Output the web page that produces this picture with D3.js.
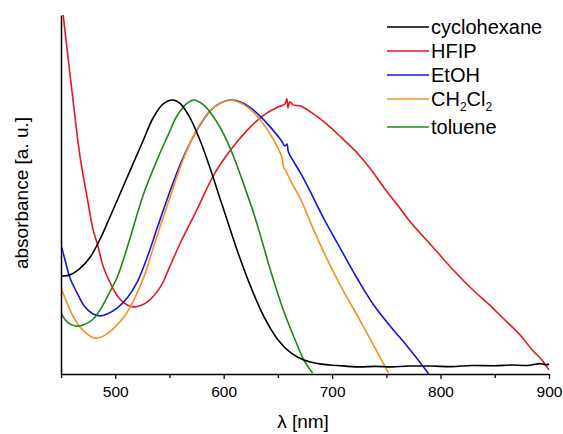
<html>
<head>
  <script src="https://cdn.jsdelivr.net/npm/d3@7"></script>
  <style>
    body { margin: 0; background: #fff; }
    text { font-family: "Liberation Sans", Arial, sans-serif; fill: #000; }
  </style>
</head>
<body>
<div id="chart"></div>
<script>
// spectra: [wavelength nm, normalised absorbance]
var cyclohexane = [[450,0.358],[458,0.361],[468,0.387],[477,0.427],[486,0.492],[493.5,0.558],[502,0.635],
  [514,0.745],[526,0.854],[535,0.935],[544,0.985],[553,1.0],[560,0.987],[569,0.935],[579,0.845],[588,0.745],
  [596,0.648],[604,0.552],[613,0.445],[625,0.318],[637,0.210],[650,0.125],[662,0.077],[674,0.051],[690,0.036],
  [705,0.031],[724,0.026],[740,0.028],[755,0.026],[770,0.029],[792,0.029],[810,0.027],[829,0.031],[850,0.030],
  [866,0.033],[880,0.031],[892,0.038],[897,0.034],[900,0.036]];
var hfip = [[452,1.31],[460,1.036],[467.6,0.792],[474,0.646],[479.6,0.526],[483.3,0.478],[489,0.391],[495.4,0.332],
  [502.8,0.280],[511,0.252],[518.5,0.245],[529.6,0.263],[541.7,0.318],[551,0.398],[560,0.478],[569.4,0.552],
  [576,0.605],[590.7,0.725],[606.5,0.818],[622,0.891],[637,0.945],[650,0.974],[656.5,0.985],[658.3,1.004],
  [659.3,0.971],[661,0.993],[664,0.982],[671,0.978],[678,0.962],[692.6,0.920],[708,0.865],[724,0.803],
  [736,0.745],[748,0.679],[761,0.613],[773,0.551],[792,0.467],[810,0.387],[829,0.310],[847,0.245],
  [856.5,0.208],[866,0.172],[875,0.135],[884,0.090],[893.5,0.051],[900,0.015]];
var etoh = [[450,0.471],[453.7,0.416],[458.3,0.350],[464.8,0.296],[472,0.245],[479.6,0.219],[486,0.212],
  [492.6,0.219],[502,0.241],[511,0.277],[520.4,0.336],[529.6,0.427],[539,0.536],[551,0.672],[560,0.765],
  [569.4,0.846],[578.7,0.912],[588,0.962],[597,0.989],[606.5,1.0],[615.7,0.993],[625,0.971],[634.3,0.938],
  [643.5,0.899],[652.8,0.854],[656.5,0.832],[658.3,0.839],[659.7,0.810],[662,0.792],[671.3,0.730],
  [677.8,0.682],[692.6,0.565],[708.3,0.453],[724,0.343],[739,0.248],[754.6,0.170],[770.4,0.096],
  [785,0.022],[789,0]];
var ch2cl2 = [[450,0.314],[455.6,0.259],[463,0.197],[472,0.153],[481.5,0.131],[490.7,0.142],[500,0.172],
  [509.3,0.215],[518.5,0.281],[527.8,0.369],[535,0.460],[542,0.545],[551,0.650],[560,0.755],[569.4,0.845],
  [578.7,0.914],[588,0.962],[597,0.989],[604.6,1.0],[613,0.993],[622,0.974],[631.5,0.938],[640.7,0.889],
  [650,0.825],[653.7,0.790],[655.6,0.750],[656.8,0.745],[662,0.703],[671.3,0.635],[680.6,0.548],
  [692.6,0.442],[708.3,0.318],[724,0.208],[739,0.099],[752,0.004]];
var toluene = [[450,0.223],[455.6,0.190],[463,0.175],[470.4,0.179],[478.7,0.197],[486,0.234],[493.5,0.288],
  [502,0.355],[507.4,0.416],[514,0.500],[526,0.655],[539,0.785],[548,0.865],[557.4,0.945],[566.7,0.989],
  [572.2,1.0],[581.5,0.982],[590.7,0.938],[600,0.875],[609.3,0.792],[618.5,0.692],[627.8,0.585],[634.3,0.500],
  [643.5,0.374],[652.8,0.259],[657.4,0.208],[664.8,0.135],[674,0.051],[682,0.004]];

var names = ["cyclohexane", "HFIP", "EtOH", "CH2Cl2", "toluene"];
var colors = ["#000000", "#e8171d", "#1414e6", "#f7901e", "#148c14"];
var series = [cyclohexane, hfip, etoh, ch2cl2, toluene];
var majorTicks = [500, 600, 700, 800, 900];
var minorTicks = [450, 550, 650, 750, 850];

var width = 563, height = 434;
var svg = d3.select("#chart").append("svg")
  .attr("width", width).attr("height", height);

var x = d3.scaleLinear().domain([450, 900]).range([61, 549]);
var y = d3.scaleLinear().domain([0, 1.31]).range([374, 15]);

svg.append("clipPath").attr("id", "plotclip")
  .append("rect").attr("x", 61).attr("y", 15).attr("width", 492).attr("height", 359);

var line = d3.line()
  .x(function (d) { return x(d[0]); })
  .y(function (d) { return y(d[1]); })
  .curve(d3.curveCatmullRom.alpha(0.5));

// draw the back ones first so black/green sit on top like the original
var order = [1, 2, 3, 4, 0];
order.forEach(function (i) {
  svg.append("path")
    .datum(series[i])
    .attr("clip-path", "url(#plotclip)")
    .attr("fill", "none")
    .attr("stroke", colors[i])
    .attr("stroke-width", 1.6)
    .attr("stroke-linejoin", "round")
    .attr("d", line);
});

// axes
var xAxis = svg.append("g").attr("transform", "translate(0,374)")
  .call(d3.axisBottom(x).tickValues(majorTicks).tickSize(5).tickSizeOuter(0).tickPadding(7));
xAxis.select(".domain").attr("stroke-width", 1.5);
xAxis.selectAll(".tick line").attr("stroke-width", 1.3);
xAxis.selectAll("text").style("font-size", "15.5px")
  .style("font-family", "'Liberation Sans', Arial, sans-serif");

var xMinor = svg.append("g").attr("transform", "translate(0,374)")
  .call(d3.axisBottom(x).tickValues(minorTicks).tickSize(4).tickFormat(""));
xMinor.select(".domain").remove();
xMinor.selectAll(".tick line").attr("stroke-width", 1.3);

var yAxis = svg.append("g").attr("transform", "translate(61,0)")
  .call(d3.axisLeft(y).tickValues([]).tickSizeOuter(0));
yAxis.select(".domain").attr("stroke-width", 1.5);

// axis titles
svg.append("text")
  .attr("x", 303).attr("y", 428)
  .attr("text-anchor", "middle")
  .style("font-size", "19px")
  .text("λ [nm]");

svg.append("text")
  .attr("transform", "translate(28,193) rotate(-90)")
  .attr("text-anchor", "middle")
  .style("font-size", "19px")
  .text("absorbance [a. u.]");

// legend
var legend = svg.append("g");
names.forEach(function (n, i) {
  var ly = 27 + i * 24 + (i >= 4 ? 4 : 0);
  legend.append("line")
    .attr("x1", 387).attr("x2", 429)
    .attr("y1", ly).attr("y2", ly)
    .attr("stroke", colors[i]).attr("stroke-width", 1.6);
  var t = legend.append("text")
    .attr("x", 431).attr("y", ly + 7)
    .style("font-size", "20px");
  if (n === "CH2Cl2") {
    t.append("tspan").text("CH");
    t.append("tspan").attr("dy", 5).style("font-size", "12px").text("2");
    t.append("tspan").attr("dy", -5).text("Cl");
    t.append("tspan").attr("dy", 5).style("font-size", "12px").text("2");
  } else {
    t.text(n);
  }
});
</script>
</body>
</html>
